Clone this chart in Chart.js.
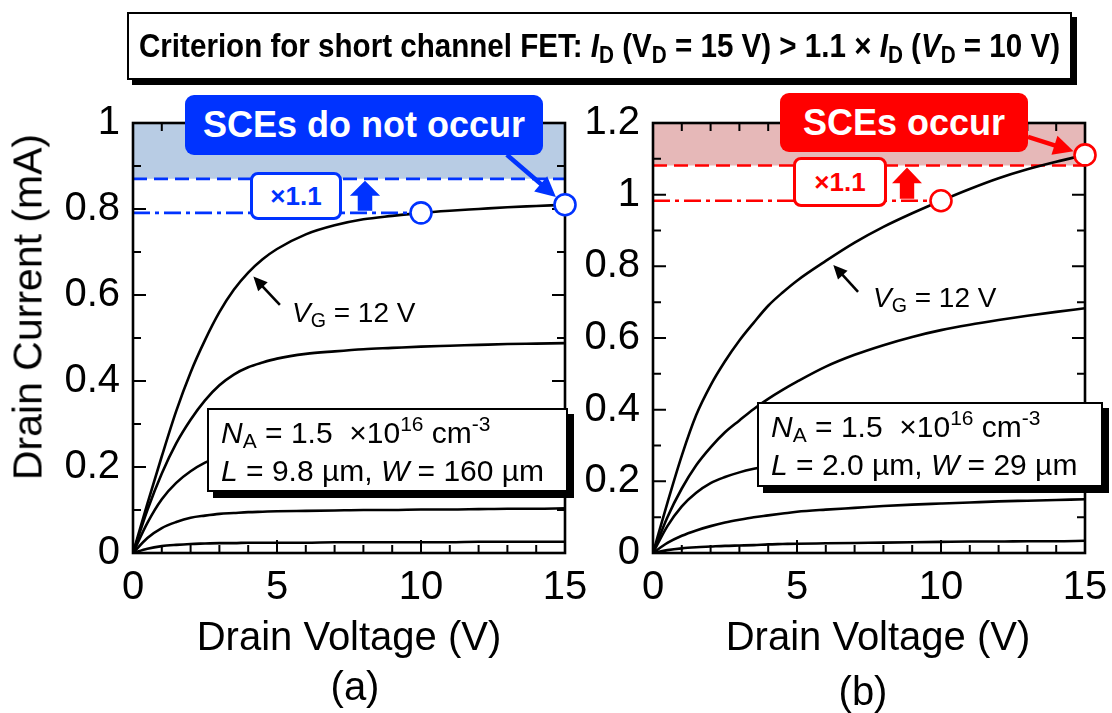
<!DOCTYPE html>
<html>
<head>
<meta charset="utf-8">
<script src="https://cdn.jsdelivr.net/npm/chart.js@4.4.1/dist/chart.umd.min.js"></script>
<style>
  body { margin: 0; background: #fff; width: 1112px; height: 713px; position: relative; overflow: hidden;
         font-family: "Liberation Sans", Arial, sans-serif; color: #000; }
  canvas { position: absolute; top: 0; }
  #ivA { left: 0; }
  #ivB { left: 560px; }
  .t { position: absolute; white-space: nowrap; line-height: 1; }
  .ax { font-size: 40px; transform: translate(-50%, -50%); }
  .ax.rot { font-size: 41px; transform: translate(-50%, -50%) rotate(-90deg); }
  sub { font-size: 70%; vertical-align: -0.25em; line-height: 0; }
  sup { font-size: 70%; vertical-align: 0.55em; line-height: 0; }
  #crit { left: 127px; top: 12px; width: 941px; height: 64px; border: 2px solid #000; box-shadow: 5px 5px 0 #000;
          background: #fff; overflow: hidden; }
  #critText { position: absolute; left: 10px; top: 15px; font-weight: bold; font-size: 33px; line-height: 1;
              transform-origin: 0 0; white-space: nowrap; }
  .call { border-radius: 9px; color: #fff; font-weight: bold; font-size: 36px; display: flex; align-items: center; justify-content: center; }
  .mul { background: #fff; border-radius: 8px; font-weight: bold; font-size: 26px; display: flex; align-items: center; justify-content: center; box-sizing: border-box; }
  .par { background: #fff; border: 2px solid #000; box-shadow: 6px 6px 0 #000; box-sizing: border-box; font-size: 30px; line-height: 38px; padding: 4px 0 0 12px; }
  .vg { font-size: 28px; }
</style>
</head>
<body>
<canvas id="ivA" width="600" height="713"></canvas>
<canvas id="ivB" width="552" height="713"></canvas>

<div class="t" id="crit"><span id="critText">Criterion for short channel FET: <i>I</i><sub>D</sub> (V<sub>D</sub> = 15 V) &gt; 1.1 × <i>I</i><sub>D</sub> (<i>V</i><sub>D</sub> = 10 V)</span></div>

<div class="t call" style="left:185px;top:95px;width:358px;height:60px;background:#0033ff;">SCEs do not occur</div>
<div class="t call" style="left:780px;top:93px;width:248px;height:59px;background:#ff0000;">SCEs occur</div>

<div class="t mul" style="left:250px;top:172px;width:92px;height:48px;border:3px solid #0033ff;color:#0033ff;">×1.1</div>
<div class="t mul" style="left:793px;top:157px;width:94px;height:50px;border:3px solid #ff0000;color:#ff0000;">×1.1</div>

<div class="t vg" style="left:292px;top:299px;"><i>V</i><sub>G</sub> = 12 V</div>
<div class="t vg" style="left:873px;top:284px;"><i>V</i><sub>G</sub> = 12 V</div>

<div class="t par" style="left:207px;top:408px;width:361px;height:84px;"><i>N</i><sub>A</sub> = 1.5 &nbsp;×10<sup>16</sup> cm<sup>-3</sup><br><i>L</i> = 9.8 µm, <i>W</i> = 160 µm</div>
<div class="t par" style="left:757px;top:402px;width:346px;height:85px;"><i>N</i><sub>A</sub> = 1.5 &nbsp;×10<sup>16</sup> cm<sup>-3</sup><br><i>L</i> = 2.0 µm, <i>W</i> = 29 µm</div>

<div class="t ax rot" style="left:28px;top:307px;">Drain Current (mA)</div>
<div class="t ax" style="left:349px;top:636px;">Drain Voltage (V)</div>
<div class="t ax" style="left:878px;top:636px;">Drain Voltage (V)</div>
<div class="t ax" style="left:355px;top:686px;">(a)</div>
<div class="t ax" style="left:863px;top:691px;">(b)</div>

<script>
// drain voltage sweep (V), shared by every curve
const vd = [0, 0.5, 1, 1.5, 2, 2.5, 3, 3.5, 4, 4.5, 5, 6, 7, 8, 9, 10, 11, 12, 13, 14, 15];

// (a) long channel: drain current (mA), top curve is V_G = 12 V
const idA1 = [0, 0.115, 0.225, 0.33, 0.42, 0.495, 0.56, 0.612, 0.652, 0.683, 0.707, 0.741, 0.762, 0.776, 0.784, 0.791, 0.796, 0.8, 0.804, 0.807, 0.81];
const idA2 = [0, 0.1, 0.185, 0.255, 0.31, 0.355, 0.39, 0.415, 0.432, 0.443, 0.452, 0.463, 0.469, 0.474, 0.477, 0.48, 0.482, 0.484, 0.486, 0.487, 0.488];
const idA3 = [0, 0.07, 0.125, 0.163, 0.19, 0.21, 0.224, 0.233, 0.24, 0.245, 0.248, 0.252, 0.255, 0.257, 0.259, 0.26, 0.261, 0.262, 0.263, 0.264, 0.265];
const idA4 = [0, 0.035, 0.058, 0.072, 0.082, 0.087, 0.091, 0.093, 0.095, 0.096, 0.097, 0.098, 0.099, 0.1, 0.1, 0.101, 0.101, 0.102, 0.103, 0.103, 0.104];
const idA5 = [0, 0.01, 0.016, 0.019, 0.021, 0.022, 0.023, 0.023, 0.024, 0.024, 0.024, 0.024, 0.025, 0.025, 0.025, 0.025, 0.025, 0.026, 0.026, 0.026, 0.026];

// (b) short channel
const idB1 = [0, 0.14, 0.272, 0.385, 0.468, 0.535, 0.593, 0.643, 0.69, 0.727, 0.76, 0.815, 0.866, 0.91, 0.948, 0.983, 1.016, 1.046, 1.071, 1.092, 1.111];
const idB2 = [0, 0.1, 0.18, 0.245, 0.295, 0.337, 0.37, 0.402, 0.43, 0.455, 0.478, 0.52, 0.553, 0.58, 0.603, 0.622, 0.637, 0.65, 0.662, 0.673, 0.683];
const idB3 = [0, 0.075, 0.13, 0.168, 0.195, 0.212, 0.225, 0.235, 0.243, 0.25, 0.257, 0.267, 0.275, 0.282, 0.289, 0.295, 0.3, 0.306, 0.311, 0.316, 0.32];
const idB4 = [0, 0.028, 0.048, 0.063, 0.075, 0.085, 0.093, 0.1, 0.105, 0.11, 0.115, 0.121, 0.126, 0.131, 0.135, 0.138, 0.141, 0.144, 0.146, 0.148, 0.15];
const idB5 = [0, 0.008, 0.013, 0.016, 0.018, 0.02, 0.021, 0.022, 0.024, 0.025, 0.026, 0.027, 0.028, 0.029, 0.03, 0.031, 0.032, 0.032, 0.033, 0.033, 0.034];

// criterion points and factor
const vdCheck = [10, 15];
const factor = 1.1;

// axis ticks
const xTicks = [0, 5, 10, 15];
const yTicksA = [0, 0.2, 0.4, 0.6, 0.8, 1];
const yTicksB = [0, 0.2, 0.4, 0.6, 0.8, 1, 1.2];

const BLUE = '#0033ff', RED = '#ff0000';

// squeeze the bold criterion line into its box
const crit = document.getElementById('critText');
crit.style.transform = `scaleX(${921 / crit.getBoundingClientRect().width})`;

function arrow(ctx, x0, y0, x1, y1, w, head, hw, color) {
  const len = Math.hypot(x1 - x0, y1 - y0);
  ctx.save();
  ctx.translate(x1, y1);
  ctx.rotate(Math.atan2(y1 - y0, x1 - x0));
  ctx.strokeStyle = ctx.fillStyle = color;
  ctx.lineWidth = w;
  ctx.beginPath(); ctx.moveTo(-len, 0); ctx.lineTo(-head + 1, 0); ctx.stroke();
  ctx.beginPath(); ctx.moveTo(0, 0); ctx.lineTo(-head, hw / 2); ctx.lineTo(-head, -hw / 2); ctx.closePath(); ctx.fill();
  ctx.restore();
}

// box with inward major/minor ticks on all four sides
function drawFrame(chart) {
  const { ctx, chartArea: a, scales: { x, y } } = chart;
  ctx.save();
  ctx.strokeStyle = '#000';
  ctx.lineWidth = 2.6;
  ctx.strokeRect(a.left, a.top, a.right - a.left, a.bottom - a.top);
  ctx.lineWidth = 2;
  ctx.beginPath();
  for (let v = 0; v <= x.max; v++) {
    const px = x.getPixelForValue(v), len = v % 5 === 0 ? 13 : 8;
    ctx.moveTo(px, a.bottom); ctx.lineTo(px, a.bottom - len);
    ctx.moveTo(px, a.top); ctx.lineTo(px, a.top + len);
  }
  for (let k = 0; k <= Math.round(y.max * 10); k++) {
    const py = y.getPixelForValue(k / 10), len = k % 2 === 0 ? 13 : 8;
    ctx.moveTo(a.left, py); ctx.lineTo(a.left + len, py);
    ctx.moveTo(a.right, py); ctx.lineTo(a.right - len, py);
  }
  ctx.stroke();
  ctx.restore();
}

const framePlugin = {
  id: 'frame',
  beforeDatasetDraw(chart, args) {
    if (chart.data.datasets[args.index].frameBelow) drawFrame(chart);
  },
  afterDraw(chart, args, o) {
    const { ctx, scales: { x, y } } = chart;
    const i10 = o.ids[vd.indexOf(vdCheck[0])], i15 = o.ids[vd.indexOf(vdCheck[1])];

    // callout arrow onto the V_D = 15 V point
    const cx = x.getPixelForValue(vdCheck[1]), cy = y.getPixelForValue(i15);
    const tx = x.getPixelForValue(o.tail[0]), ty = y.getPixelForValue(o.tail[1]);
    const d = Math.hypot(cx - tx, cy - ty), r = 12;
    arrow(ctx, tx, ty, cx - (cx - tx) * r / d, cy - (cy - ty) * r / d, 4.5, 20, 20, o.tint);

    // V_G label arrow
    arrow(ctx, x.getPixelForValue(o.vgTail[0]), y.getPixelForValue(o.vgTail[1]),
          x.getPixelForValue(o.vgTip[0]), y.getPixelForValue(o.vgTip[1]), 2.6, 14, 13, '#000');

    // block arrow between I_D(10 V) and 1.1 x I_D(10 V)
    const l = x.getPixelForValue(o.lift[0]), rr = x.getPixelForValue(o.lift[1]);
    const bot = y.getPixelForValue(i10) - 2, top = y.getPixelForValue(i10 * factor) + 2;
    const mid = (l + rr) / 2, hh = (bot - top) * 0.5, sw = (rr - l) * 0.24;
    ctx.save();
    ctx.fillStyle = o.tint;
    ctx.beginPath();
    ctx.moveTo(mid, top); ctx.lineTo(rr, top + hh); ctx.lineTo(mid + sw, top + hh);
    ctx.lineTo(mid + sw, bot); ctx.lineTo(mid - sw, bot); ctx.lineTo(mid - sw, top + hh);
    ctx.lineTo(l, top + hh); ctx.closePath(); ctx.fill();
    ctx.restore();
  }
};

function ivChart(id, curves, yMax, yTicks, axisW, padRight, tint, shade, ann) {
  const ids = curves[0];
  const i10 = ids[vd.indexOf(vdCheck[0])];
  const line = (data, extra) => Object.assign({ data, pointRadius: 0, borderWidth: 2.6, fill: false }, extra);
  const tickFont = { family: 'Liberation Sans', size: 40 };

  const datasets = [
    line([{ x: 0, y: i10 * factor }, { x: 15, y: i10 * factor }],
         { borderColor: tint, borderDash: [14, 7], fill: 'end', backgroundColor: shade, order: 5 }),
    ...curves.map(c => line(vd.map((v, i) => ({ x: v, y: c[i] })),
         { borderColor: '#000', cubicInterpolationMode: 'monotone', order: 3 })),
    line([{ x: 0, y: i10 }, { x: vdCheck[0], y: i10 }],
         { borderColor: tint, borderDash: [17, 5, 4, 5], order: 2 }),
    { data: vdCheck.map(v => ({ x: v, y: ids[vd.indexOf(v)] })), showLine: false, pointRadius: 10.5,
      pointBorderWidth: 2.6, pointBackgroundColor: '#fff', pointBorderColor: tint, clip: false, order: 0, frameBelow: true }
  ];

  return new Chart(document.getElementById(id), {
    type: 'line',
    data: { datasets },
    plugins: [framePlugin],
    options: {
      responsive: false,
      animation: false,
      layout: { padding: { top: 123, bottom: 60, left: 0, right: padRight } },
      plugins: { legend: { display: false }, tooltip: { enabled: false },
                 frame: Object.assign({ ids, tint }, ann) },
      scales: {
        x: {
          type: 'linear', min: 0, max: 15,
          afterBuildTicks: s => { s.ticks = xTicks.map(v => ({ value: v })); },
          afterFit: s => { s.height = 100; },
          grid: { display: false }, border: { display: false },
          ticks: { color: '#000', padding: 3, font: tickFont, callback: v => String(+v.toFixed(1)) }
        },
        y: {
          type: 'linear', min: 0, max: yMax,
          afterBuildTicks: s => { s.ticks = yTicks.map(v => ({ value: v })); },
          afterFit: s => { s.width = axisW; },
          grid: { display: false }, border: { display: false },
          ticks: { color: '#000', padding: 5, font: tickFont, callback: v => String(+v.toFixed(1)) }
        }
      }
    }
  });
}

ivChart('ivA', [idA1, idA2, idA3, idA4, idA5], 1, yTicksA, 133, 35, BLUE, '#b8cce4',
        { tail: [12.98, 0.926], vgTail: [5.1, 0.577], vgTip: [4.18, 0.643], lift: [7.53, 8.58] });
ivChart('ivB', [idB1, idB2, idB3, idB4, idB5], 1.2, yTicksB, 93, 27, RED, '#e6b8b8',
        { tail: [13.02, 1.161], vgTail: [7.12, 0.729], vgTip: [6.26, 0.804], lift: [8.3, 9.34] });
</script>
</body>
</html>
